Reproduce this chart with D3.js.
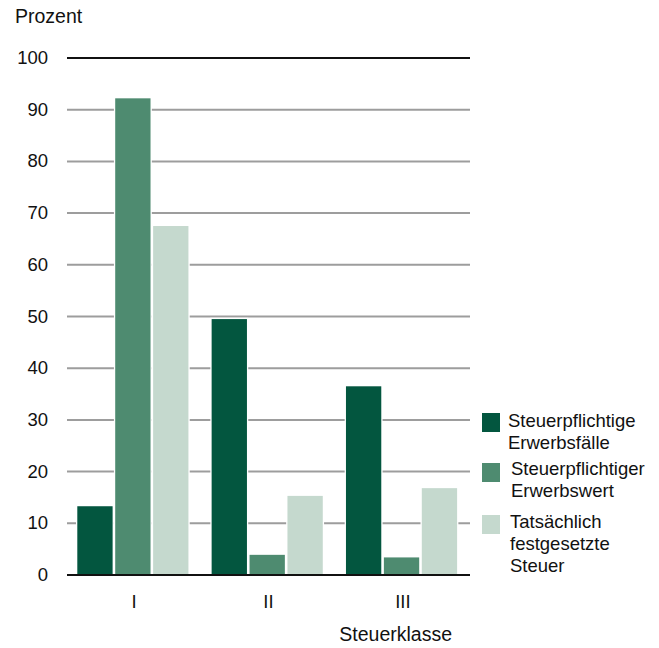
<!DOCTYPE html>
<html>
<head>
<meta charset="utf-8">
<script src="https://cdn.jsdelivr.net/npm/d3@7"></script>
<style>
  html, body { margin: 0; padding: 0; background: #fff; }
  svg { display: block; font-family: "Liberation Sans", Arial, sans-serif; }
</style>
</head>
<body>
<svg id="chart" width="659" height="648"></svg>
<script>
// Steuerklassen and the three shares (in Prozent)
const categories = ["I", "II", "III"];
const seriesNames = ["Steuerpflichtige Erwerbsfälle", "Steuerpflichtiger Erwerbswert", "Tatsächlich festgesetzte Steuer"];
const legendLines = [["Steuerpflichtige", "Erwerbsfälle"], ["Steuerpflichtiger", "Erwerbswert"], ["Tatsächlich", "festgesetzte", "Steuer"]];
const erwerbsfaelle = [13.3, 49.5, 36.5];
const erwerbswert = [92.2, 3.9, 3.4];
const festgesetzteSteuer = [67.5, 15.3, 16.8];
const yTicks = [0, 10, 20, 30, 40, 50, 60, 70, 80, 90, 100];
const colors = ["#03563f", "#4e8b70", "#c5d9ce"];

const series = [erwerbsfaelle, erwerbswert, festgesetzteSteuer];
const FS = 18.5;
const TITLE_FS = 19.5;

const svg = d3.select("#chart");
const plot = { left: 67, right: 470, top: 58, bottom: 575 };

const y = d3.scaleLinear().domain([0, 100]).range([plot.bottom, plot.top]);
const x0 = d3.scaleBand().domain(categories).range([plot.left, plot.right]).padding(0);
const groupPad = 10.3;
const x1 = d3.scaleBand().domain(d3.range(series.length))
  .range([groupPad, x0.bandwidth() - groupPad]).padding(0);

// Gridlines
svg.append("g").selectAll("line")
  .data(yTicks.filter(t => t > 0 && t < 100))
  .join("line")
  .attr("x1", plot.left).attr("x2", plot.right)
  .attr("y1", d => y(d)).attr("y2", d => y(d))
  .attr("stroke", "#9d9d9d").attr("stroke-width", 2);

// Top line at 100
svg.append("line")
  .attr("x1", plot.left).attr("x2", plot.right)
  .attr("y1", y(100)).attr("y2", y(100))
  .attr("stroke", "#111").attr("stroke-width", 2);

// Bars with a white halo that breaks the gridlines
const gap = 2.6;
const bars = [];
categories.forEach((c, ci) => {
  series.forEach((s, si) => {
    bars.push({ c, si, v: s[ci] });
  });
});
const g = svg.append("g");
g.selectAll("rect.halo").data(bars).join("rect")
  .attr("class", "halo")
  .attr("x", d => x0(d.c) + x1(d.si) - 1.3)
  .attr("y", d => y(d.v) - 1.3)
  .attr("width", x1.bandwidth() - gap + 2.6)
  .attr("height", d => y(0) - y(d.v) + 1.3)
  .attr("fill", "#fff");
g.selectAll("rect.bar").data(bars).join("rect")
  .attr("class", "bar")
  .attr("x", d => x0(d.c) + x1(d.si))
  .attr("y", d => y(d.v))
  .attr("width", x1.bandwidth() - gap)
  .attr("height", d => y(0) - y(d.v))
  .attr("fill", d => colors[d.si]);

// Baseline
svg.append("line")
  .attr("x1", plot.left).attr("x2", plot.right)
  .attr("y1", y(0)).attr("y2", y(0))
  .attr("stroke", "#111").attr("stroke-width", 2);

// Y axis labels
const yAxis = d3.axisLeft(y).tickValues(yTicks).tickSize(0).tickPadding(0).tickFormat(d3.format("d"));
const ya = svg.append("g").attr("transform", `translate(48,0)`).call(yAxis);
ya.select(".domain").remove();
ya.selectAll("text").attr("font-size", FS).attr("fill", "#111")
  .attr("font-family", "Liberation Sans, Arial, sans-serif")
  .attr("dy", "0.3em");

svg.append("text").attr("x", 15).attr("y", 23)
  .attr("font-size", TITLE_FS).attr("fill", "#111").text("Prozent");

// X axis labels
const xAxis = d3.axisBottom(x0).tickSize(0).tickPadding(0);
const xa = svg.append("g").attr("transform", `translate(0,${plot.bottom})`).call(xAxis);
xa.select(".domain").remove();
xa.selectAll("text").attr("font-size", FS).attr("fill", "#111")
  .attr("font-family", "Liberation Sans, Arial, sans-serif")
  .attr("dy", null).attr("y", 33);

svg.append("text").attr("x", 452).attr("y", 641).attr("text-anchor", "end")
  .attr("font-size", TITLE_FS).attr("fill", "#111").text("Steuerklasse");

// Legend
const legendItems = [
  { y: 413, lines: legendLines[0], tx: 508, ty: 427 },
  { y: 463, lines: legendLines[1], tx: 511, ty: 475 },
  { y: 515, lines: legendLines[2], tx: 510, ty: 528 }
];
const lg = svg.append("g");
legendItems.forEach((it, i) => {
  lg.append("rect").attr("x", 482).attr("y", it.y)
    .attr("width", 18).attr("height", 19).attr("fill", colors[i]);
  const t = lg.append("text").attr("x", it.tx).attr("y", it.ty)
    .attr("font-size", FS).attr("fill", "#111");
  it.lines.forEach((ln, li) => {
    t.append("tspan").attr("x", it.tx).attr("dy", li === 0 ? 0 : 22).text(ln);
  });
});
</script>
</body>
</html>
